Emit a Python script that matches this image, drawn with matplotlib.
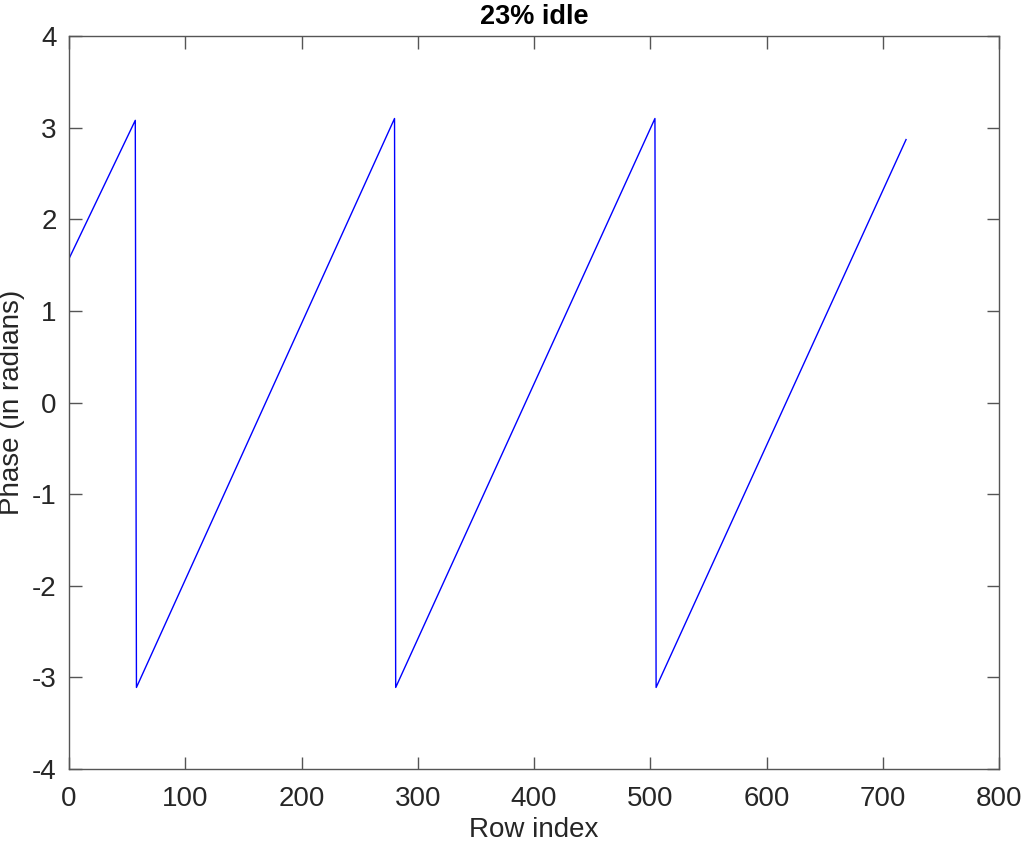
import matplotlib
matplotlib.use("Agg")
import matplotlib.pyplot as plt

# sawtooth vertices (row index, phase)
row_index = [0, 57, 58, 280, 281, 504, 505, 720]
phase = [1.57, 3.08, -3.11, 3.10, -3.11, 3.10, -3.11, 2.87]

x_ticks = [0, 100, 200, 300, 400, 500, 600, 700, 800]
y_ticks = [-4, -3, -2, -1, 0, 1, 2, 3, 4]

plt.rcParams['font.family'] = ['Liberation Sans', 'DejaVu Sans']

fig = plt.figure(figsize=(10.21, 8.42), dpi=100)
ax = fig.add_axes([0.0676, 0.0867, 0.9109, 0.8705])

ax.plot(row_index, phase, color='#0000ff', linewidth=1.0)

ax.set_xlim(0, 800)
ax.set_ylim(-4, 4)
ax.set_xticks(x_ticks)
ax.set_yticks(y_ticks)
ax.set_xticklabels([str(v) for v in x_ticks])
ax.set_yticklabels([str(v) for v in y_ticks])

axis_col = '#262626'
for sp in ax.spines.values():
    sp.set_color('#555555')
    sp.set_linewidth(1.0)
ax.tick_params(direction='in', length=9, width=1.0, color='#555555',
               labelsize=20, labelcolor=axis_col, top=True, right=True)
ax.tick_params(axis='x', pad=12)
ax.tick_params(axis='y', pad=9)

ax.set_xlabel("Row index", fontsize=20, color=axis_col, labelpad=4)
ax.set_ylabel("Phase (in radians)", fontsize=20, color=axis_col)
ax.yaxis.set_label_coords(-0.047, 0.5)
ax.set_title("23% idle", fontsize=19.5, fontweight='bold', pad=9)

fig.savefig("out.png", dpi=100)
